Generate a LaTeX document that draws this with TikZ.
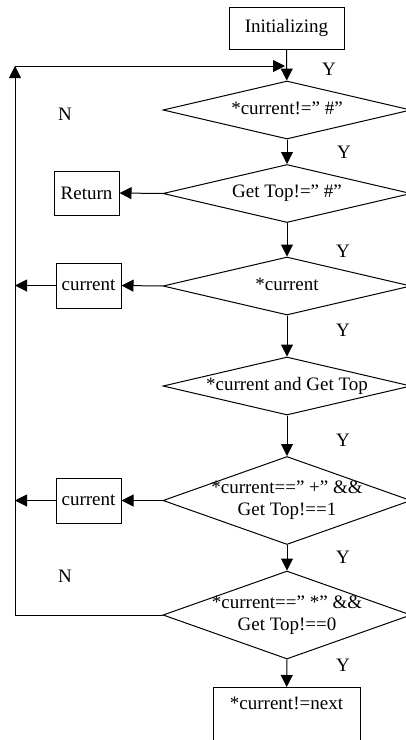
\documentclass[tikz,border=0pt]{standalone}
\usepackage{fontspec}
\setmainfont{Liberation Serif}
\usetikzlibrary{shapes.geometric,arrows.meta}
\newcommand{\inbox}[1]{\makebox[0pt]{\begin{tabular}{@{}c@{}}#1\end{tabular}}}

\begin{document}
\begin{tikzpicture}[x=0.5pt,y=-0.5pt,
  font=\fontsize{9.5}{11}\selectfont,
  line width=0.5pt,
  >={Triangle[length=6pt,width=6pt]},
  proc/.style={rectangle, draw, inner sep=0pt},
  decision/.style={diamond, draw, inner sep=0pt, minimum width=124pt, minimum height=29pt},
  tall/.style={minimum height=44pt}]
\clip (0,0) rectangle (406,740);

\node[proc, minimum width=57.5pt, minimum height=21pt] (init) at (286.5,28) {Initializing};
\node[decision] (cond1) at (287,110) {\inbox{*current!=” \#”}};
\node[decision] (cond2) at (287,193.5) {\inbox{Get Top!=” \#”}};
\node[decision] (cond3) at (287,286) {\inbox{*current}};
\node[decision] (cond4) at (287,386) {\inbox{*current and Get Top}};
\node[decision, tall] (cond5) at (287,500.5) {\inbox{*current==” +” \&\&\\Get Top!==1}};
\node[decision, tall] (cond6) at (287,615) {\inbox{*current==” *” \&\&\\Get Top!==0}};

\node[proc, minimum width=32.5pt, minimum height=22pt] (ret) at (86.5,193) {Return};
\node[proc, minimum width=32.5pt, minimum height=22.5pt] (cur1) at (88.5,285.5) {current};
\node[proc, minimum width=32.5pt, minimum height=22.5pt] (cur2) at (88.5,500.5) {current};
\node[proc, anchor=north, minimum width=73.5pt, inner ysep=5pt, text depth=30pt] (next) at (286.5,687) {*current!=next};

\coordinate (lft) at (15,66);
\coordinate (ent) at (285,66);

% main line
\draw[->] (init) -- (cond1);
\draw[->] (cond1) -- (cond2);
\draw[->] (cond2) -- (cond3);
\draw[->] (cond3) -- (cond4);
\draw[->] (cond4) -- (cond5);
\draw[->] (cond5) -- (cond6);
\draw[->] (cond6) -- (next);

% side branches
\draw[->] (cond2.west) -- (ret.east);
\draw[->] (cond3.west) -- (cur1.east);
\draw[->] (cur1.west) -- (cur1.west -| lft);
\draw[->] (cond5.west) -- (cur2.east);
\draw[->] (cur2.west) -- (cur2.west -| lft);

% back loop
\draw[->] (cond6.west) -| (lft);
\draw[->] (lft) -- (ent);

\node (ylab1) at (329,69) {Y};
\node (ylab2) at (344,152) {Y};
\node (ylab3) at (343,251) {Y};
\node (ylab4) at (343,330) {Y};
\node (ylab5) at (343,440) {Y};
\node (ylab6) at (343,557) {Y};
\node (ylab7) at (343,665) {Y};
\node (nlab1) at (65,114) {N};
\node (nlab2) at (65,576) {N};
\end{tikzpicture}
\end{document}
